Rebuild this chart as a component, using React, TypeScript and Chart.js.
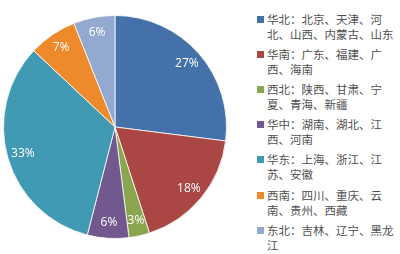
import React, { useEffect, useRef } from "react";
import { Chart, registerables } from "chart.js";

Chart.register(...registerables);

const categories = ["华北", "华南", "西北", "华中", "华东", "西南", "东北"];
const legendLines: string[][] = [
  ["华北：北京、天津、河", "北、山西、内蒙古、山东"],
  ["华南：广东、福建、广", "西、海南"],
  ["西北：陕西、甘肃、宁", "夏、青海、新疆"],
  ["华中：湖南、湖北、江", "西、河南"],
  ["华东：上海、浙江、江", "苏、安徽"],
  ["西南：四川、重庆、云", "南、贵州、西藏"],
  ["东北：吉林、辽宁、黑龙", "江"],
];
const values = [27, 18, 3, 6, 33, 7, 6];
const colors = ["#4471A9", "#AA4643", "#89A54E", "#71588F", "#409AB4", "#EE8A2C", "#93A9CF"];

const labelPlugin = {
  id: "pctLabels",
  afterDatasetsDraw(chart: any) {
    const ctx = chart.ctx;
    const meta = chart.getDatasetMeta(0);
    const data = chart.data.datasets[0].data as number[];
    const total = data.reduce((a, b) => a + b, 0);
    ctx.save();
    ctx.fillStyle = "#ffffff";
    ctx.font = "12px 'Open Sans', 'Liberation Sans', sans-serif";
    ctx.textAlign = "center";
    ctx.textBaseline = "middle";
    meta.data.forEach((arc: any, i: number) => {
      const { x, y, startAngle, endAngle, outerRadius } = arc.getProps(
        ["x", "y", "startAngle", "endAngle", "outerRadius"],
        true
      );
      const mid = (startAngle + endAngle) / 2;
      const r = outerRadius * 0.86;
      const pct = Math.round((data[i] / total) * 100) + "%";
      ctx.fillText(pct, x + Math.cos(mid) * r, y + Math.sin(mid) * r);
    });
    ctx.restore();
  },
};

export default function App() {
  const ref = useRef<HTMLCanvasElement>(null);
  useEffect(() => {
    if (!ref.current) return;
    const chart = new Chart(ref.current, {
      type: "pie",
      data: {
        labels: categories,
        datasets: [
          {
            data: values,
            backgroundColor: colors,
            borderColor: "rgba(255,255,255,0.8)",
            borderWidth: 1,
          },
        ],
      },
      options: {
        animation: false,
        responsive: true,
        maintainAspectRatio: false,
        layout: { padding: { top: 15, bottom: 15, left: 0, right: 0 } },
        plugins: {
          legend: { display: false },
          tooltip: { enabled: false },
        },
      },
      plugins: [labelPlugin],
    });
    return () => chart.destroy();
  }, []);

  return (
    <div
      style={{
        position: "fixed",
        left: 0,
        top: 0,
        width: 400,
        height: 254,
        background: "#ffffff",
        overflow: "hidden",
      }}
    >
      <div style={{ position: "absolute", left: 0, top: 0, width: 230, height: 254 }}>
        <canvas ref={ref} />
      </div>
      {legendLines.map((lines, i) => (
        <div
          key={categories[i]}
          style={{
            position: "absolute",
            left: 256,
            top: 11.5 + i * 35.2,
            fontFamily: "'Noto Sans CJK SC', sans-serif",
            fontSize: 11.5,
            lineHeight: "15px",
            color: "#505050",
            whiteSpace: "nowrap",
          }}
        >
          <span
            style={{
              position: "absolute",
              left: 1,
              top: 4,
              width: 7,
              height: 7,
              background: colors[i],
            }}
          />
          {lines.map((ln, j) => (
            <div key={j} style={{ marginLeft: 11 }}>
              {ln}
            </div>
          ))}
        </div>
      ))}
    </div>
  );
}
